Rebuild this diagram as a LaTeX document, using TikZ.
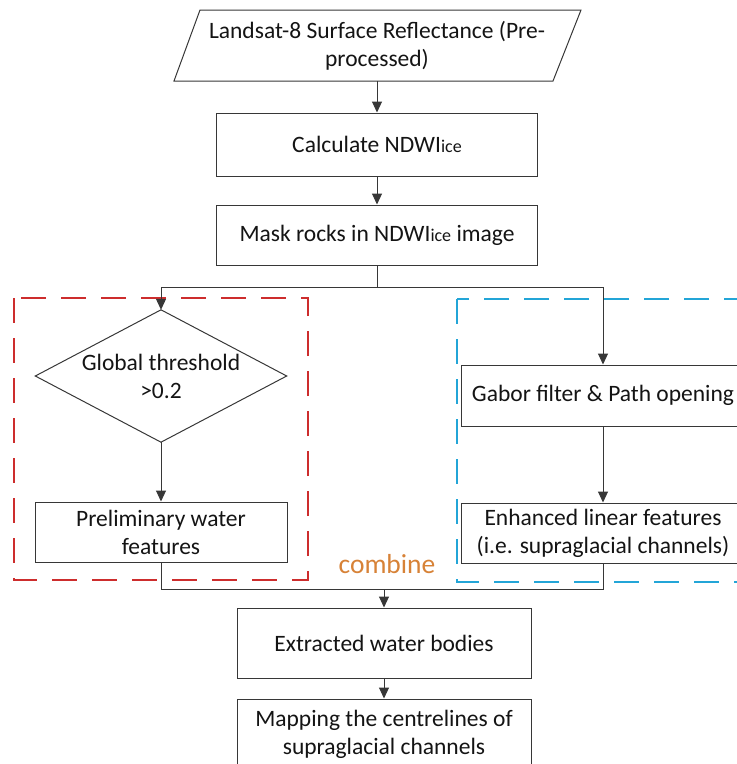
\documentclass[tikz,border=0pt]{standalone}
\usepackage{fontspec}
\setmainfont{Carlito}
\usetikzlibrary{arrows.meta}
\definecolor{lncol}{RGB}{55,55,55}
\definecolor{txtcol}{RGB}{20,20,20}
\definecolor{grpred}{RGB}{205,45,45}
\definecolor{grpblue}{RGB}{35,165,215}
\definecolor{combcol}{RGB}{215,130,55}
\newcommand{\subice}{{\fontsize{18}{18}\selectfont ice}}
\begin{document}
\begin{tikzpicture}[x=1pt,y=-1pt,
  font=\fontsize{23.5}{28}\selectfont,
  box/.style={draw=lncol, line width=1pt, fill=white, text=txtcol, inner sep=0pt, align=center},
  plain/.style={text=txtcol, inner sep=0pt, align=center},
  conn/.style={draw=lncol, line width=1pt},
  arr/.style={conn, -{Triangle[length=11pt,width=10pt]}},
  grp/.style={line width=1.8pt, dash pattern=on 25pt off 15pt},
  ]
\useasboundingbox (0,0) rectangle (737,764);
% group frames
\draw[grp, draw=grpred] (14,298) rectangle (308,580);
\draw[grp, draw=grpblue] (457,299) rectangle (760,582);
% input parallelogram
\node[plain, minimum width=381, minimum height=71] (src) at (377,45.5)
  {Landsat-8 Surface Reflectance (Pre-\\processed)};
\draw[conn] (200,10) -- (581,10) -- (553,81) -- (174,81) -- cycle;
% main chain
\node[box, minimum width=321, minimum height=63] (calc) at (377,144.5) {Calculate NDWI\subice};
\node[box, minimum width=321, minimum height=60] (mask) at (377,235) {Mask rocks in NDWI\subice{} image};
% left branch
\node[plain, minimum width=251, minimum height=132] (dia) at (161,376) {Global threshold\\>0.2};
\draw[conn] (dia.north) -- (dia.east) -- (dia.south) -- (dia.west) -- cycle;
\node[box, minimum width=252, minimum height=60] (pre) at (161,532) {Preliminary water\\features};
% right branch
\node[box, minimum width=284, minimum height=61] (gab) at (603,395.5) {Gabor filter \& Path opening};
\node[box, minimum width=284, minimum height=60] (enh) at (603,533) {Enhanced linear features\\(i.e. supraglacial channels)};
% bottom
\node[box, minimum width=294, minimum height=70] (ext) at (384,643) {Extracted water bodies};
\node[box, minimum width=294, minimum height=70] (map) at (384,734) {Mapping the centrelines of\\supraglacial channels};
\node[text=combcol, inner sep=0pt, anchor=base, font=\fontsize{27.5}{30}\selectfont] (comb) at (387,573) {combine};
% connectors
\coordinate (split) at (377,287);
\coordinate (join) at (384,589);
\draw[arr] (src.south) -- (calc.north);
\draw[arr] (calc.south) -- (mask.north);
\draw[conn] (mask.south) -- (split);
\draw[arr] (split) -| (dia.north);
\draw[arr] (split) -| (gab.north);
\draw[arr] (dia.south) -- (pre.north);
\draw[arr] (gab.south) -- (enh.north);
\draw[conn] (pre.south) |- (join);
\draw[conn] (enh.south) |- (join);
\draw[arr] (join) -- (ext.north);
\draw[arr] (ext.south) -- (map.north);
\end{tikzpicture}
\end{document}
